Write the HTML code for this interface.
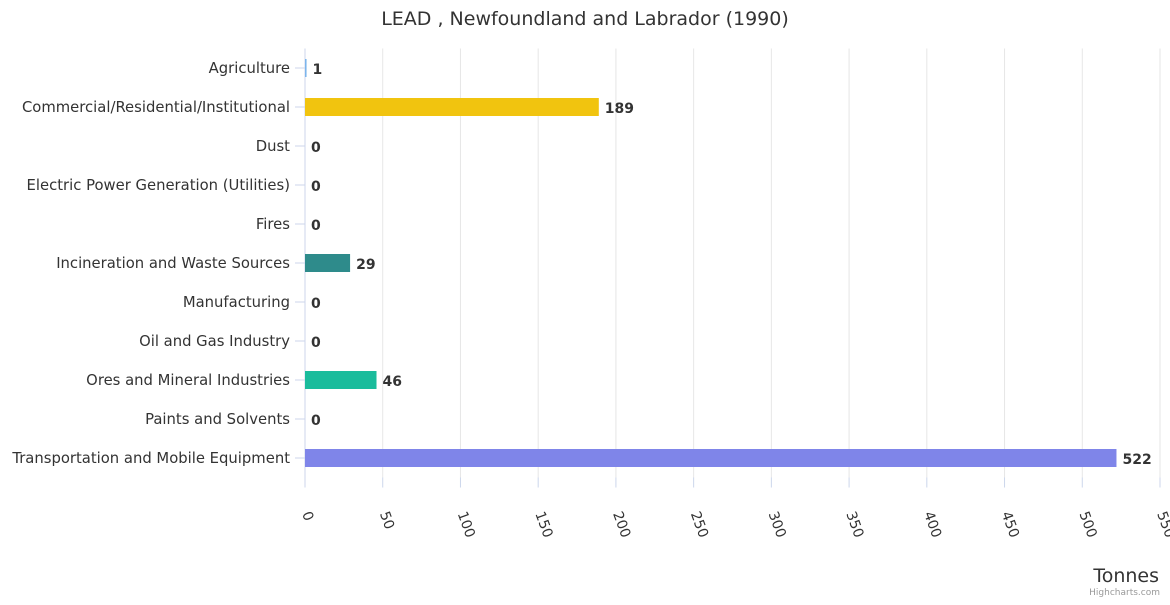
<!DOCTYPE html>
<html><head><meta charset="utf-8"><style>
body{margin:0;background:#fff;font-family:"Liberation Sans","DejaVu Sans",sans-serif;}
svg text{font-family:"DejaVu Sans","Liberation Sans",sans-serif;}
</style></head><body>
<svg id="c" width="1170" height="600" xmlns="http://www.w3.org/2000/svg">
<text x="585" y="25" text-anchor="middle" font-size="19" fill="#333">LEAD , Newfoundland and Labrador (1990)</text>
<g id="grid"></g><g id="bars"></g><g id="ylab"></g><g id="xlab"></g>
<text x="1159" y="582" text-anchor="end" font-size="19" fill="#333">Tonnes</text>
<text x="1160" y="595" text-anchor="end" font-size="9" fill="#999">Highcharts.com</text>
</svg>
<script>
const categories=["Agriculture","Commercial/Residential/Institutional","Dust","Electric Power Generation (Utilities)","Fires","Incineration and Waste Sources","Manufacturing","Oil and Gas Industry","Ores and Mineral Industries","Paints and Solvents","Transportation and Mobile Equipment"];
const values=[1,189,0,0,0,29,0,0,46,0,522];
const colors=["#7cb5ec","#f1c40f","#888","#888","#888","#2e8b8b","#888","#888","#1abc9c","#888","#7f85e9"];
const ticks=[0,50,100,150,200,250,300,350,400,450,500,550];
const NS="http://www.w3.org/2000/svg";
const x0=305,x1=1160,yTop=48.5,rowH=39,yBottom=yTop+rowH*categories.length;
const xs=v=>x0+(v/550)*(x1-x0);
const ys=i=>yTop+rowH*i+rowH/2;
function mk(t,a,p){const e=document.createElementNS(NS,t);for(const k in a)e.setAttribute(k,a[k]);p.appendChild(e);return e;}
const g=document.getElementById('grid'),b=document.getElementById('bars'),yl=document.getElementById('ylab'),xl=document.getElementById('xlab');
ticks.forEach((t,i)=>{
 const l=mk('line',{x1:xs(t),x2:xs(t),y1:yTop,y2:yBottom,stroke:i?"#e6e6e6":"#ccd6eb"},g);
 
 
 const tk=mk('line',{x1:xs(t),x2:xs(t),y1:yBottom,y2:yBottom+10,stroke:"#ccd6eb"},g);
 
 
 const tx=mk('text',{x:0,y:0,'font-size':14,fill:"#333",transform:`translate(${xs(t)-3},${yBottom+36}) rotate(70)`},xl);
 tx.textContent=t;
 
 
});
categories.forEach((c,i)=>{
 const y=ys(i);
 const tk=mk('line',{x1:x0-10,x2:x0,y1:y,y2:y,stroke:"#ccd6eb"},g);
 
 
 const t=mk('text',{x:290,y:y+5,'text-anchor':'end','font-size':14.8,fill:"#333"},yl);
 t.textContent=c;
 
 
 const w=xs(values[i])-x0;
 if(w>0){
  const r=mk('rect',{x:x0,y:y-9,width:w,height:18,fill:colors[i]},b);
  
  
 }
 const v=mk('text',{x:xs(values[i])+6,y:y+6,'font-size':14,'font-weight':'bold',fill:"#333"},b);
 v.textContent=values[i];
 
 
});
const ax=mk('line',{x1:x0,x2:x0,y1:yTop,y2:yBottom,stroke:"#ccd6eb"},g);


</script>
</body></html>
